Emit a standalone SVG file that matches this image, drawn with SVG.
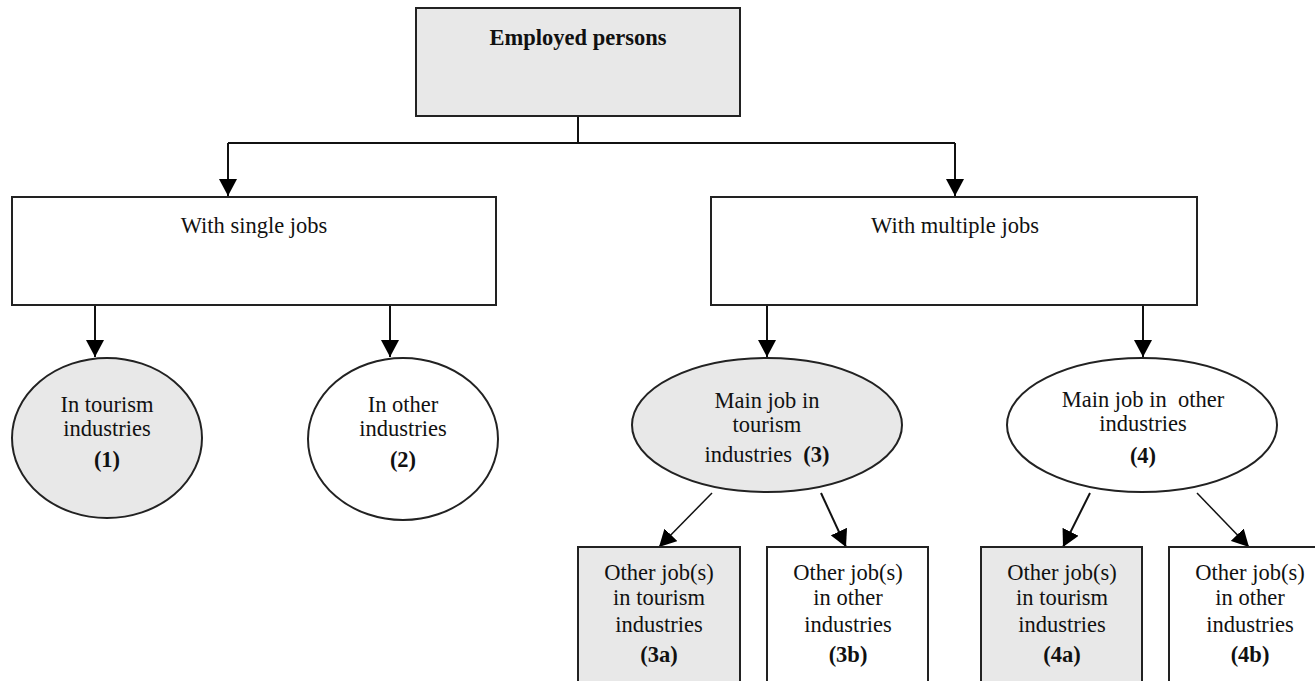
<svg xmlns="http://www.w3.org/2000/svg" width="1315" height="681" viewBox="0 0 1315 681">
<defs>
<style>
.box{stroke:#222;stroke-width:2;fill:#fff}
.gray{fill:#e8e8e8}
.c{stroke:#111;stroke-width:2;fill:none}
.thin{stroke-width:1.5}
</style>
<marker id="ah" markerWidth="18" markerHeight="18" viewBox="0 0 18 18" refX="17" refY="9" orient="auto" markerUnits="userSpaceOnUse">
<path d="M0,0 L17,9 L0,18 Z" fill="#000"/>
</marker>
</defs>
<rect width="1315" height="681" fill="#fff"/>
<g id="connectors">
<path class="c" d="M578,116 V143 M228,143 H955"/>
<path class="c" d="M228,143 V196" marker-end="url(#ah)"/>
<path class="c" d="M955,143 V196" marker-end="url(#ah)"/>
<path class="c" d="M95,305 V357" marker-end="url(#ah)"/>
<path class="c" d="M390,305 V357" marker-end="url(#ah)"/>
<path class="c" d="M767,305 V357" marker-end="url(#ah)"/>
<path class="c" d="M1143,305 V357" marker-end="url(#ah)"/>
<path class="c thin" d="M712,493 L659,547" marker-end="url(#ah)"/>
<path class="c" d="M821,493 L846,547" marker-end="url(#ah)"/>
<path class="c" d="M1090,493 L1063,547" marker-end="url(#ah)"/>
<path class="c thin" d="M1197,493 L1249,547" marker-end="url(#ah)"/>
</g>
<g id="employed">
<rect class="box gray" x="416" y="8" width="324" height="108"/>
<text style="font-family:'Liberation Serif',serif;font-size:22.5px;font-weight:bold;fill:#111;text-anchor:middle" x="578" y="45">Employed persons</text>
</g>
<g id="single">
<rect class="box" x="12" y="197" width="484" height="108"/>
<text style="font-family:'Liberation Serif',serif;font-size:22.5px;fill:#111;text-anchor:middle" x="254" y="233">With single jobs</text>
</g>
<g id="multiple">
<rect class="box" x="711" y="197" width="486" height="108"/>
<text style="font-family:'Liberation Serif',serif;font-size:22.5px;fill:#111;text-anchor:middle" x="955" y="233">With multiple jobs</text>
</g>
<g id="n1">
<ellipse class="box gray" cx="107" cy="438" rx="95" ry="80"/>
<text style="font-family:'Liberation Serif',serif;font-size:22.5px;fill:#111;text-anchor:middle" x="107" y="412">In tourism</text>
<text style="font-family:'Liberation Serif',serif;font-size:22.5px;fill:#111;text-anchor:middle" x="107" y="436">industries</text>
<text style="font-family:'Liberation Serif',serif;font-size:22.5px;font-weight:bold;fill:#111;text-anchor:middle" x="107" y="467">(1)</text>
</g>
<g id="n2">
<ellipse class="box" cx="403" cy="439" rx="95" ry="81"/>
<text style="font-family:'Liberation Serif',serif;font-size:22.5px;fill:#111;text-anchor:middle" x="403" y="412">In other</text>
<text style="font-family:'Liberation Serif',serif;font-size:22.5px;fill:#111;text-anchor:middle" x="403" y="436">industries</text>
<text style="font-family:'Liberation Serif',serif;font-size:22.5px;font-weight:bold;fill:#111;text-anchor:middle" x="403" y="467">(2)</text>
</g>
<g id="n3">
<ellipse class="box gray" cx="767" cy="425" rx="135" ry="67"/>
<text style="font-family:'Liberation Serif',serif;font-size:22.5px;fill:#111;text-anchor:middle" x="767" y="408">Main job in</text>
<text style="font-family:'Liberation Serif',serif;font-size:22.5px;fill:#111;text-anchor:middle" x="767" y="432">tourism</text>
<text style="font-family:'Liberation Serif',serif;font-size:22.5px;fill:#111;text-anchor:middle" x="767" y="462" xml:space="preserve">industries  <tspan style="font-weight:bold">(3)</tspan></text>
</g>
<g id="n4">
<ellipse class="box" cx="1142" cy="425" rx="135" ry="67"/>
<text style="font-family:'Liberation Serif',serif;font-size:22.5px;fill:#111;text-anchor:middle" x="1143" y="407" xml:space="preserve">Main job in  other</text>
<text style="font-family:'Liberation Serif',serif;font-size:22.5px;fill:#111;text-anchor:middle" x="1143" y="431">industries</text>
<text style="font-family:'Liberation Serif',serif;font-size:22.5px;font-weight:bold;fill:#111;text-anchor:middle" x="1143" y="463">(4)</text>
</g>
<g id="n3a">
<rect class="box gray" x="578" y="547" width="162" height="150"/>
<text style="font-family:'Liberation Serif',serif;font-size:22.5px;fill:#111;text-anchor:middle" x="659" y="580">Other job(s)</text>
<text style="font-family:'Liberation Serif',serif;font-size:22.5px;fill:#111;text-anchor:middle" x="659" y="605">in tourism</text>
<text style="font-family:'Liberation Serif',serif;font-size:22.5px;fill:#111;text-anchor:middle" x="659" y="632">industries</text>
<text style="font-family:'Liberation Serif',serif;font-size:22.5px;font-weight:bold;fill:#111;text-anchor:middle" x="659" y="662">(3a)</text>
</g>
<g id="n3b">
<rect class="box" x="767" y="547" width="161" height="150"/>
<text style="font-family:'Liberation Serif',serif;font-size:22.5px;fill:#111;text-anchor:middle" x="848" y="580">Other job(s)</text>
<text style="font-family:'Liberation Serif',serif;font-size:22.5px;fill:#111;text-anchor:middle" x="848" y="605">in other</text>
<text style="font-family:'Liberation Serif',serif;font-size:22.5px;fill:#111;text-anchor:middle" x="848" y="632">industries</text>
<text style="font-family:'Liberation Serif',serif;font-size:22.5px;font-weight:bold;fill:#111;text-anchor:middle" x="848" y="662">(3b)</text>
</g>
<g id="n4a">
<rect class="box gray" x="981" y="547" width="161" height="150"/>
<text style="font-family:'Liberation Serif',serif;font-size:22.5px;fill:#111;text-anchor:middle" x="1062" y="580">Other job(s)</text>
<text style="font-family:'Liberation Serif',serif;font-size:22.5px;fill:#111;text-anchor:middle" x="1062" y="605">in tourism</text>
<text style="font-family:'Liberation Serif',serif;font-size:22.5px;fill:#111;text-anchor:middle" x="1062" y="632">industries</text>
<text style="font-family:'Liberation Serif',serif;font-size:22.5px;font-weight:bold;fill:#111;text-anchor:middle" x="1062" y="662">(4a)</text>
</g>
<g id="n4b">
<rect class="box" x="1169" y="547" width="162" height="150"/>
<text style="font-family:'Liberation Serif',serif;font-size:22.5px;fill:#111;text-anchor:middle" x="1250" y="580">Other job(s)</text>
<text style="font-family:'Liberation Serif',serif;font-size:22.5px;fill:#111;text-anchor:middle" x="1250" y="605">in other</text>
<text style="font-family:'Liberation Serif',serif;font-size:22.5px;fill:#111;text-anchor:middle" x="1250" y="632">industries</text>
<text style="font-family:'Liberation Serif',serif;font-size:22.5px;font-weight:bold;fill:#111;text-anchor:middle" x="1250" y="662">(4b)</text>
</g>
</svg>
